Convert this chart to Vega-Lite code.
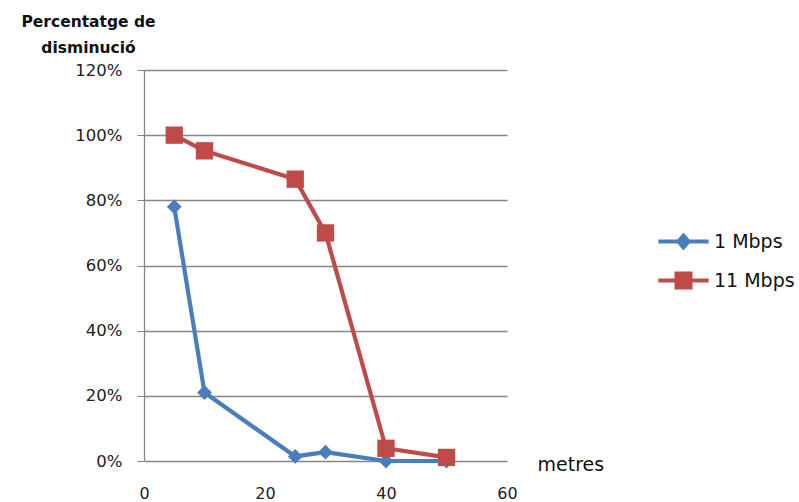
{
  "$schema": "https://vega.github.io/schema/vega-lite/v6.json",
  "autosize": {"type": "none"},
  "width": 363,
  "height": 391,
  "padding": {"left": 144, "top": 70, "right": 292, "bottom": 41},
  "background": "white",
  "config": {
    "view": {"stroke": null},
    "font": "DejaVu Sans",
    "axis": {"labelFont": "DejaVu Sans", "titleFont": "DejaVu Sans", "labelColor": "#222", "titleColor": "#111"},
    "legend": {"labelFont": "DejaVu Sans"}
  },
  "data": {
    "values": [
      {"metres": 5, "pct": 0.78, "serie": "1 Mbps"},
      {"metres": 10, "pct": 0.21, "serie": "1 Mbps"},
      {"metres": 25, "pct": 0.014, "serie": "1 Mbps"},
      {"metres": 30, "pct": 0.027, "serie": "1 Mbps"},
      {"metres": 40, "pct": 0.0, "serie": "1 Mbps"},
      {"metres": 50, "pct": 0.0, "serie": "1 Mbps"},
      {"metres": 5, "pct": 1.0, "serie": "11 Mbps"},
      {"metres": 10, "pct": 0.952, "serie": "11 Mbps"},
      {"metres": 25, "pct": 0.865, "serie": "11 Mbps"},
      {"metres": 30, "pct": 0.70, "serie": "11 Mbps"},
      {"metres": 40, "pct": 0.039, "serie": "11 Mbps"},
      {"metres": 50, "pct": 0.011, "serie": "11 Mbps"}
    ]
  },
  "encoding": {
    "x": {
      "field": "metres",
      "type": "quantitative",
      "scale": {"domain": [0, 60], "nice": false},
      "axis": {
        "values": [0, 20, 40, 60],
        "title": "metres",
        "domain": false,
        "ticks": false,
        "grid": false,
        "labelFontSize": 16,
        "labelPadding": 24,
        "labelFlush": false,
        "titleFontSize": 19,
        "titleFontWeight": "normal",
        "titleAnchor": "start",
        "titleAlign": "left",
        "titleBaseline": "middle",
        "titleX": 393,
        "titleY": 3
      }
    },
    "y": {
      "field": "pct",
      "type": "quantitative",
      "scale": {"domain": [0, 1.2], "nice": false},
      "axis": {
        "values": [0, 0.2, 0.4, 0.6, 0.8, 1.0, 1.2],
        "format": ".0%",
        "title": ["Percentatge de", "disminució"],
        "titleAngle": 0,
        "titleAlign": "center",
        "titleBaseline": "alphabetic",
        "titleX": -56,
        "titleY": -44,
        "titleFontSize": 15.5,
        "titleFontWeight": "bold",
        "titleLineHeight": 26,
        "domain": true,
        "domainColor": "#868686",
        "domainWidth": 1.3,
        "ticks": true,
        "tickSize": 7,
        "tickColor": "#868686",
        "grid": true,
        "gridColor": "#868686",
        "gridWidth": 1.3,
        "gridOpacity": 1,
        "labelFontSize": 16.5,
        "labelPadding": 15
      }
    },
    "color": {
      "field": "serie",
      "type": "nominal",
      "scale": {"domain": ["1 Mbps", "11 Mbps"], "range": ["#4A7EBB", "#BE4B48"]},
      "legend": {
        "title": null,
        "orient": "none",
        "legendX": 530,
        "legendY": 162,
        "symbolSize": 196,
        "symbolStrokeWidth": 4,
        "labelFontSize": 19,
        "labelColor": "#111",
        "labelOffset": 21,
        "rowPadding": 9,
        "encode": {
          "symbols": {
            "update": {
              "shape": {"signal": "datum.value === '1 Mbps' ? 'M-3.6,0H3.6M0,-0.85L0.72,0L0,0.85L-0.72,0Z' : 'M-3.6,0H3.6M-1,-1H1V1H-1Z'"},
              "stroke": {"scale": "color", "field": "value"},
              "fill": {"scale": "color", "field": "value"},
              "strokeWidth": {"value": 4},
              "opacity": {"value": 1}
            }
          }
        }
      }
    }
  },
  "layer": [
    {
      "mark": {"type": "line", "strokeWidth": 4.2, "strokeJoin": "round"},
      "encoding": {"order": {"field": "metres", "type": "quantitative"}}
    },
    {
      "transform": [{"filter": "datum.serie === '1 Mbps'"}],
      "mark": {"type": "point", "shape": "diamond", "size": 220, "filled": true, "opacity": 1, "strokeWidth": 0}
    },
    {
      "transform": [{"filter": "datum.serie === '11 Mbps'"}],
      "mark": {"type": "point", "shape": "square", "size": 300, "filled": true, "opacity": 1, "strokeWidth": 0}
    }
  ]
}
